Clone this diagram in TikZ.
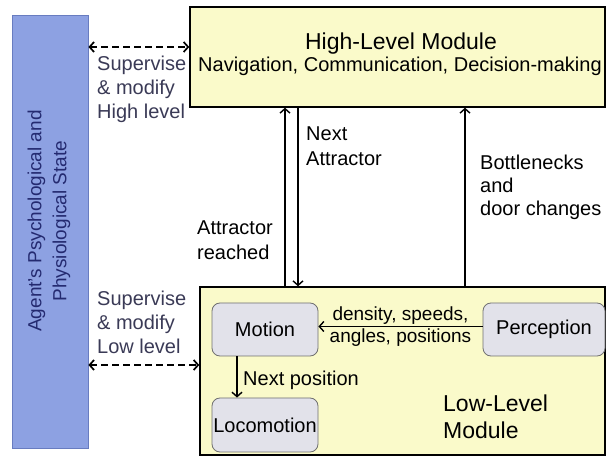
\documentclass[tikz,border=0pt]{standalone}
\usepackage{fontspec}
\setmainfont{Liberation Sans}
\usepackage{tikz}
\usetikzlibrary{arrows.meta,positioning,calc}
\definecolor{statefill}{RGB}{141,161,226}
\definecolor{statedraw}{RGB}{104,124,192}
\definecolor{statetext}{RGB}{36,42,112}
\definecolor{modfill}{RGB}{250,250,202}
\definecolor{subfill}{RGB}{226,226,234}
\definecolor{subdraw}{RGB}{112,112,112}
\definecolor{suptext}{RGB}{58,58,86}
\tikzset{
  module/.style={
      draw=black,
      line width=1.4pt,
      fill=modfill,
      inner sep=0pt
    },
  subbox/.style={
      draw=subdraw,
      line width=0.8pt,
      fill=subfill,
      rounded corners=8pt,
      minimum width=106pt,
      minimum height=53pt,
      inner sep=1pt,
      font=\fontsize{20}{24}\selectfont
    },
  lbl/.style={
      align=left,
      inner sep=0pt,
      anchor=west,
      font=\fontsize{20}{24}\selectfont
    },
  link/.style={->, line width=1.4pt},
  superv/.style={<->, line width=1.7pt, dash pattern=on 7pt off 4pt}
}

\begin{document}
\begin{tikzpicture}[x=1pt,y=-1pt,>={Straight Barb[length=4.5pt,width=10pt]}]
\useasboundingbox (0,0) rectangle (606,457);
% the shapes
\node[draw=statedraw,fill=statefill,line width=0.8pt,rotate=90,
  minimum width=433pt,minimum height=76pt]
  at (50,231.5) (state) {};
\node[rotate=90,align=center,inner sep=0pt,
  text=statetext,font=\fontsize{19}{25}\selectfont]
  at (49,221) (state-text)
  {Agent's Psychological and\\Physiological State};
\node[module,minimum width=415pt,minimum height=100pt]
  at (397.5,57) (high) {};
\node[module,minimum width=405pt,minimum height=168pt]
  at (402.5,371) (low) {};
\node[inner sep=0pt,font=\fontsize{23}{27}\selectfont]
  at (401,44) (high-title) {High-Level Module};
\node[inner sep=0pt,font=\fontsize{20}{24}\selectfont]
  at (400,66) (high-sub) {Navigation, Communication, Decision-making};
\node[subbox] at (265,329.5) (motion) {Motion};
\node[subbox,minimum height=54pt] at (265,425) (loco) {Locomotion};
\node[subbox,minimum width=122pt] at (544,329.5) (percep) {Perception};
\node[lbl,font=\fontsize{23}{27}\selectfont]
  at (443,417) (low-title) {Low-Level\\Module};

% the labels
\node[lbl,text=suptext] at (97,89) (sup-high) {Supervise\\\& modify\\High level};
\node[lbl,text=suptext] at (97,322) (sup-low) {Supervise\\\& modify\\Low level};
\node[lbl,font=\fontsize{20}{25}\selectfont] at (306,146) (next-att) {Next\\Attractor};
\node[lbl,font=\fontsize{20}{25}\selectfont] at (197,240) (att-reached) {Attractor\\reached};
\node[lbl,font=\fontsize{20}{23}\selectfont] at (480,187) (bottle) {Bottlenecks\\and\\door changes};
\node[lbl] at (243,380) (next-pos) {Next position};

%the arrows
\path
  (0,47) coordinate (sup-h)
  (0,365) coordinate (sup-l)
  (285,0) coordinate (reach)
  (298,0) coordinate (next)
  (465,0) coordinate (bneck)
  (237,0) coordinate (step-x);
\draw[superv] (state.south |- sup-h) -- (high.west |- sup-h);
\draw[superv] (state.south |- sup-l) -- (low.west |- sup-l);
\draw[link] (low.north -| reach) -- (high.south -| reach);
\draw[link] (high.south -| next) -- (low.north -| next);
\draw[link] (low.north -| bneck) -- (high.south -| bneck);
\draw[link] (motion.south -| step-x) -- (loco.north -| step-x);
\draw[link]
  ([yshift=3pt]percep.west) --
    node[above,inner sep=1.5pt,font=\fontsize{19}{23}\selectfont] (dens) {density, speeds,}
    node[below,inner sep=1.5pt,font=\fontsize{19}{23}\selectfont] (angl) {angles, positions}
  ([yshift=3pt]motion.east);
\end{tikzpicture}
\end{document}
